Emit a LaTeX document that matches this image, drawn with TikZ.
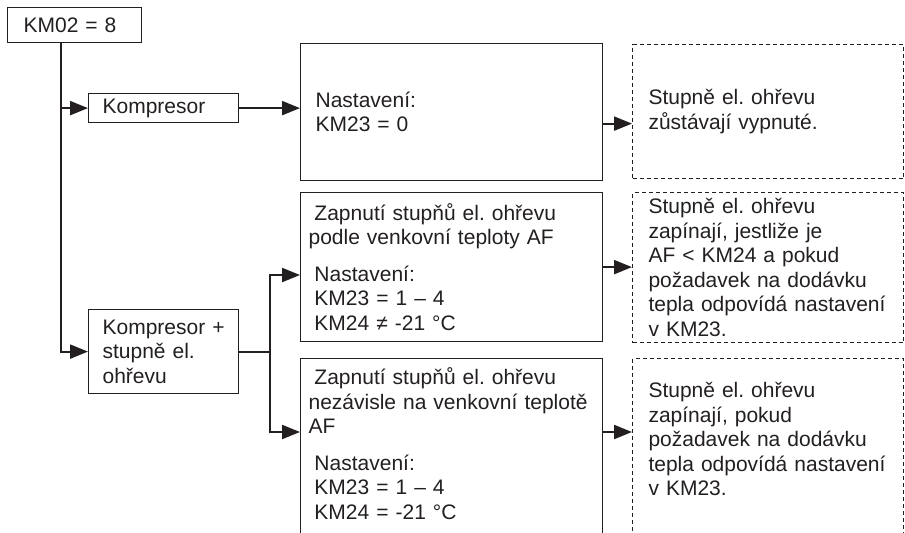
\documentclass[tikz,border=0pt]{standalone}
\usepackage{fontspec}
\setmainfont{Liberation Sans}
\usetikzlibrary{arrows.meta}
\definecolor{ink}{RGB}{35,31,32}
\tikzstyle{box}=[draw=ink, line width=0.6pt, rectangle, anchor=north west, align=left, inner ysep=0pt, text=ink]
\tikzstyle{side box}=[box, inner xsep=7pt, text width=61pt]
\tikzstyle{set box}=[box, inner xsep=4pt, text width=143pt]
\tikzstyle{note box}=[box, line width=0.5pt, dash pattern=on 2pt off 1.5pt, inner xsep=8pt, text width=119.5pt]
\tikzstyle{conn}=[draw=ink, line width=1.1pt, -{Triangle[length=9pt,width=7pt]}]
\newcommand{\Ind}{\hspace*{0.28em}}
\frenchspacing

\begin{document}
\begin{tikzpicture}[x=0.5pt, y=-0.5pt, font=\fontsize{10.5}{12.25}\selectfont]
\useasboundingbox (0,0) rectangle (905,532);
\clip (0,0) rectangle (905,532);
%
  \node[box, inner xsep=8pt, text width=51pt, minimum height=17.5pt] (km02) at (7,7) {KM02 = 8};
  \node[side box, minimum height=14.5pt] (komp) at (88,93) {Kompresor};
  \node[side box, minimum height=42pt] (kompplus) at (88,309) {Kompresor +\\ stupně el.\\ ohřevu};
%
  \node[box, inner xsep=7.5pt, text width=136pt, minimum height=68.5pt] (nast1) at (300,43)
    {Nastavení:\\ KM23 = 0};
  \node[set box, minimum height=74.5pt] (nast2) at (300,192)
    {\Ind Zapnutí stupňů el. ohřevu\\ podle venkovní teploty AF\\[6pt]
     \Ind Nastavení:\\ \Ind KM23 = 1 – 4\\ \Ind KM24 ≠ -21 °C};
  \node[set box, minimum height=97pt] (nast3) at (300,358)
    {\Ind Zapnutí stupňů el. ohřevu\\ nezávisle na venkovní teplotě\\ AF\\[6pt]
     \Ind Nastavení:\\ \Ind KM23 = 1 – 4\\ \Ind KM24 = -21 °C\\ \mbox{}};
%
  \node[note box, minimum height=67pt] (note1) at (632,44)
    {Stupně el. ohřevu\\ zůstávají vypnuté.};
  \node[note box, minimum height=75pt] (note2) at (632,192)
    {Stupně el. ohřevu\\ zapínají, jestliže je\\ AF < KM24 a pokud\\ požadavek na dodávku\\ tepla odpovídá nastavení\\ v KM23.};
  \node[note box, minimum height=93pt] (note3) at (632,358)
    {Stupně el. ohřevu\\ zapínají, pokud\\ požadavek na dodávku\\ tepla odpovídá nastavení\\ v KM23.\\ \mbox{}};
%
  \coordinate (trunk) at ([xshift=27pt]km02.south west);
  \coordinate (split) at ([xshift=15.5pt]kompplus.east);
  \draw[conn] (trunk) |- (komp);
  \draw[conn] (trunk) |- (kompplus);
  \draw[conn] (komp) -- (komp -| nast1.west);
  \draw[conn] ([yshift=-5.75pt]nast1.east) -- ([yshift=-5.75pt]nast1.east -| note1.west);
  \draw[conn] (kompplus) -- (split) |- ([yshift=-41.5pt]nast2.north west);
  \draw[conn] (split) |- ([yshift=-37pt]nast3.north west);
  \draw[conn] (nast2) -- (nast2 -| note2.west);
  \draw[conn] ([yshift=-37pt]nast3.north east) -- ([yshift=-37pt]nast3.north east -| note3.west);
%
\end{tikzpicture}
\end{document}
